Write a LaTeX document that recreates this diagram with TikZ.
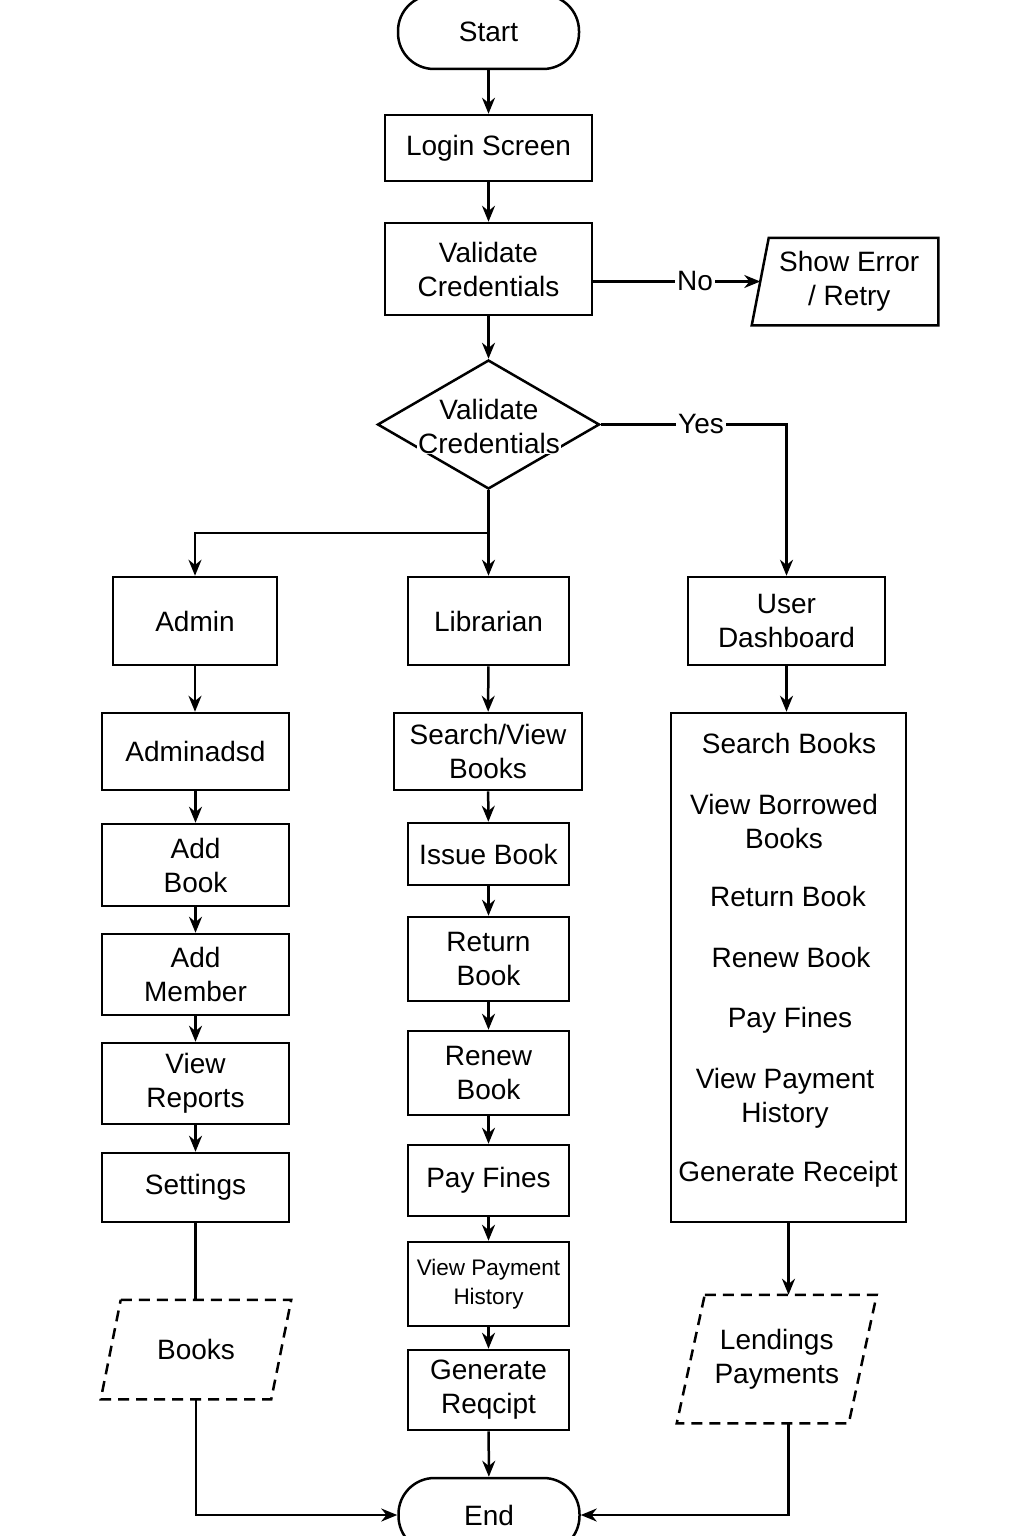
\documentclass[tikz,border=0pt]{standalone}
\usepackage{fontspec}
\setmainfont{Liberation Sans}
\usetikzlibrary{arrows.meta,shapes.geometric}

\begin{document}
\begin{tikzpicture}[
		x=1pt, y=-1pt,
		line width=2.5pt,
		>={Stealth[length=16pt, width=13pt]},
		every node/.style={font=\fontsize{28}{34}\selectfont, align=center, inner sep=0pt},
		term/.style={rectangle, rounded corners=36pt, draw, minimum width=181pt, minimum height=74pt},
		box/.style={rectangle, draw, minimum height=#1},
		adminbox/.style={box=#1, minimum width=187pt},
		libbox/.style={box=#1, minimum width=161pt},
		decision/.style={diamond, draw, minimum width=222pt, minimum height=129pt},
		store/.style={rectangle, minimum width=#1},
		storeline/.style={dash pattern=on 11pt off 7pt},
		tag/.style={fill=white, inner sep=2pt}
	]
  \useasboundingbox (0,0) rectangle (1024,1536);

  \node (start) [term] at (488.5,32) {Start};
  \node (login) [box=66pt, minimum width=207pt] at (488.5,148) {Login Screen};
  \node (validate) [box=92pt, minimum width=207pt] at (488.5,269) {Validate\\Credentials};
  \node (error) [minimum width=175.5pt, minimum height=85pt] at (849.25,281.5) {Show Error\\/ Retry};
  \draw ([xshift=8.5pt]error.north west) -- (error.north east) -- (error.south east) -- ([xshift=-8.5pt]error.south west) -- cycle;
  \node (check) [decision] at (488.5,424.5) {};
  \node (check_top) at (489,409) {Validate};
  \node (check_bottom) [fill=white, inner sep=1pt] at (489,443) {Credentials};

  \node (admin) [box=88pt, minimum width=164pt] at (195,621) {Admin};
  \node (librarian) [libbox=88pt] at (488.5,621) {Librarian};
  \node (user_dash) [box=88pt, minimum width=197pt] at (786.5,621) {User\\Dashboard};

  \node (adminadsd) [adminbox=77pt] at (195.5,751.5) {Adminadsd};
  \node (add_book) [adminbox=82pt] at (195.5,865) {Add\\Book};
  \node (add_member) [adminbox=81pt] at (195.5,974.5) {Add\\Member};
  \node (view_reports) [adminbox=81pt] at (195.5,1083.5) {View\\Reports};
  \node (settings) [adminbox=69pt] at (195.5,1187.5) {Settings};
  \node (books) [store=168pt, minimum height=97pt] at (196,1349.5) {Books};
  \draw [storeline] ([xshift=10pt]books.north west) -- ([xshift=10pt]books.north east) -- ([xshift=-10pt]books.south east) -- ([xshift=-10pt]books.south west) -- cycle;

  \node (search_view) [box=77pt, minimum width=188pt] at (488,751.5) {Search/View\\Books};
  \node (issue_book) [libbox=62pt] at (488.5,854) {Issue Book};
  \node (return_book) [libbox=84pt] at (488.5,959) {Return\\Book};
  \node (renew_book) [libbox=84pt] at (488.5,1073) {Renew\\Book};
  \node (pay_fines) [libbox=71pt] at (488.5,1180.5) {Pay Fines};
  \node (view_history) [libbox=84pt, font=\fontsize{22.5}{29}\selectfont] at (488.5,1284) {View Payment\\History};
  \node (receipt) [libbox=80pt] at (488.5,1390) {Generate\\Reqcipt};
  \node (stop) [term] at (489,1515) {End};

  \node (user_menu) [box=509pt, minimum width=235pt] at (788.5,967.5) {};
  \node (u_search) at (789,743) {Search Books};
  \node (u_borrowed) at (784,821) {View Borrowed\\Books};
  \node (u_return) at (788,896) {Return Book};
  \node (u_renew) at (791,957) {Renew Book};
  \node (u_fines) at (790,1020) {Pay Fines};
  \node (u_history) at (785,1098) {View Payment\\History};
  \node (u_receipt) at (788,1174) {Generate Receipt};
  \node (lendings) [store=169.5pt, minimum height=126pt] at (776.75,1359) {Lendings\\Payments};
  \draw [storeline] ([xshift=14pt]lendings.north west) -- ([xshift=14pt]lendings.north east) -- ([xshift=-14pt]lendings.south east) -- ([xshift=-14pt]lendings.south west) -- cycle;

  \draw[->] (start) -- (login);
  \draw[->] (login) -- (validate);
  \draw[->] (validate) -- (check);
  \draw[->] (error.west -| validate.east) -- (error.west) node[pos=0.61, tag] {No};
  \draw[->] (check.east) -| (user_dash.north) node[pos=0.27, tag] {Yes};
  \draw (check.south) -- (488.5,533) coordinate (split);
  \draw[->] (split) -| (admin.north);
  \draw[->] (split) -- (librarian.north);

  \draw[->] (admin) -- (admin |- adminadsd.north);
  \draw[->] (adminadsd) -- (add_book);
  \draw[->] (add_book) -- (add_member);
  \draw[->] (add_member) -- (view_reports);
  \draw[->] (view_reports) -- (settings);
  \draw (settings) -- (settings |- books.north);
  \draw[->] (books) |- (stop.west);

  \draw[->] (librarian) -- (search_view);
  \draw[->] (search_view) -- (issue_book);
  \draw[->] (issue_book) -- (return_book);
  \draw[->] (return_book) -- (renew_book);
  \draw[->] (renew_book) -- (pay_fines);
  \draw[->] (pay_fines) -- (view_history);
  \draw[->] (view_history) -- (receipt);
  \draw[->] (receipt) -- (stop);

  \draw[->] (user_dash) -- (user_dash |- user_menu.north);
  \draw[->] (user_menu.south) -- (user_menu.south |- lendings.north);
  \draw[->] (user_menu.south |- lendings.south) |- (stop.east);
\end{tikzpicture}
\end{document}
